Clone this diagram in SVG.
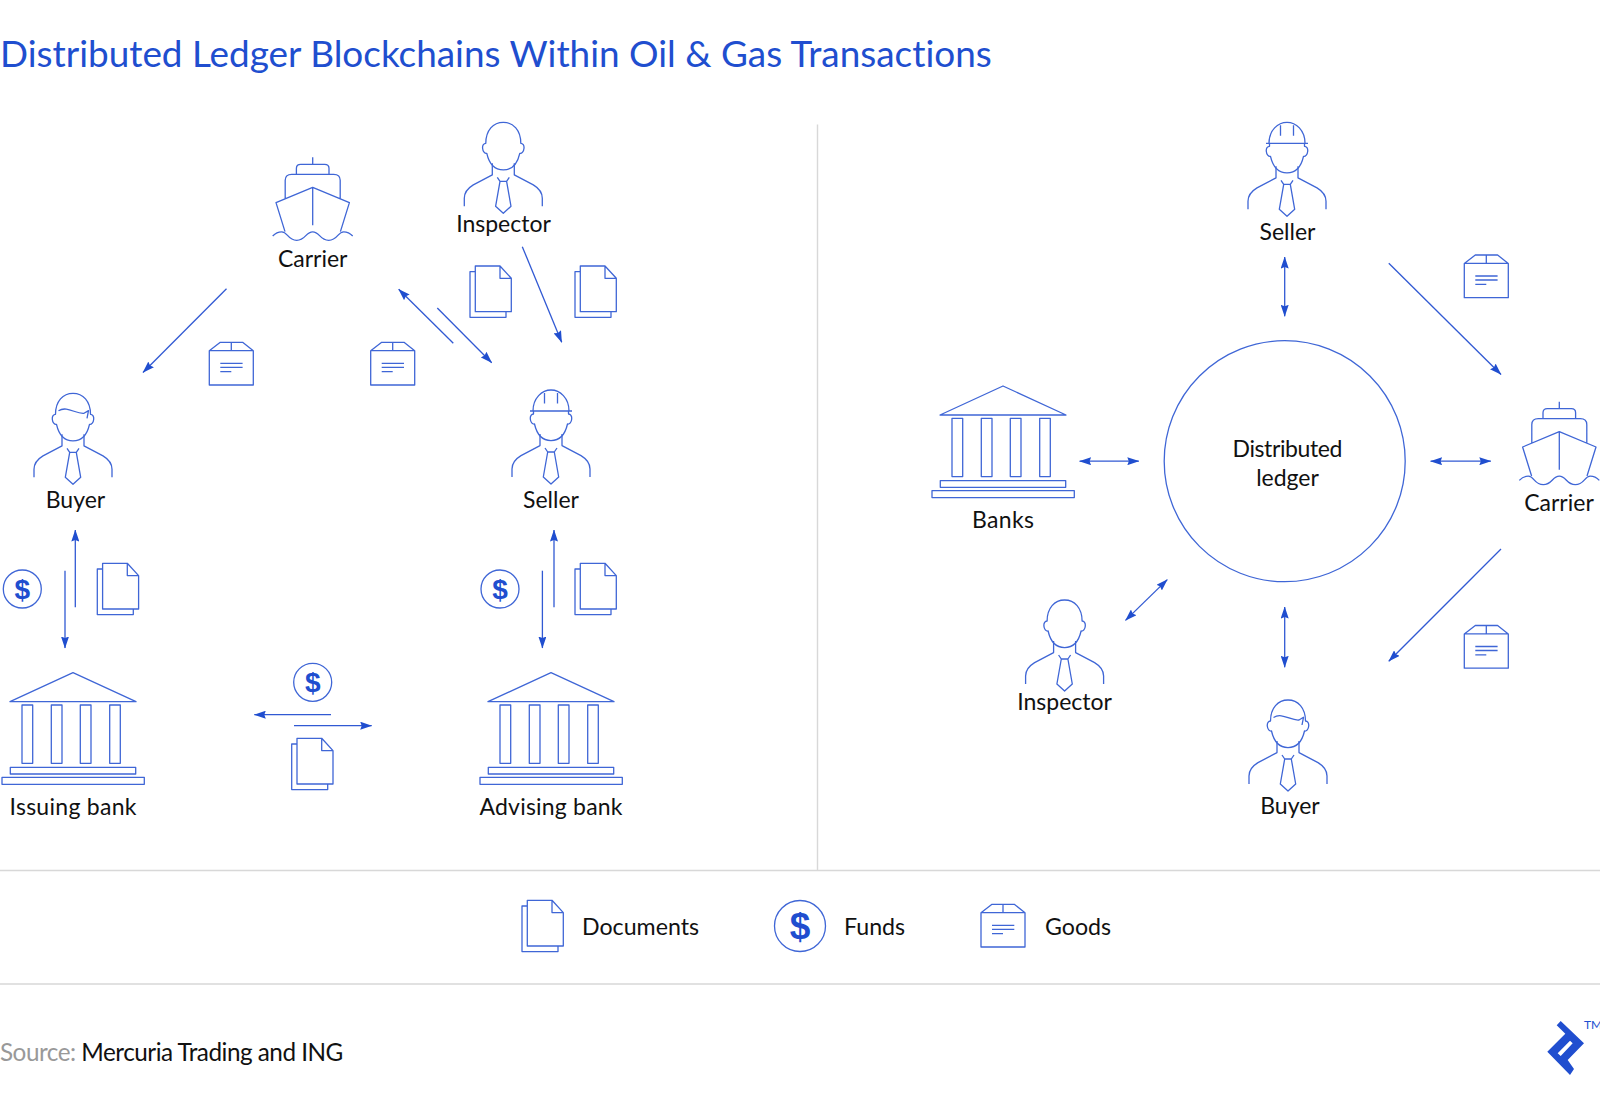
<svg xmlns="http://www.w3.org/2000/svg" xmlns:xlink="http://www.w3.org/1999/xlink" width="1600" height="1113" viewBox="0 0 1600 1113">
<style>
text{font-variant-ligatures:none}
.i{fill:none;stroke:#3f66d6;stroke-width:1.3;stroke-linejoin:round}
.c{fill:none;stroke:#3159d3;stroke-width:1.3}
.t{font-family:"Lato","Liberation Sans",sans-serif;font-size:23px;fill:#111;text-anchor:middle}
.l{font-family:"Lato","Liberation Sans",sans-serif;font-size:23.2px;fill:#111}
.d{font-family:"Liberation Sans",sans-serif;font-weight:700;fill:#204ecf;text-anchor:middle}
.r{stroke:#d8d8d8;stroke-width:1.4;fill:none}
</style>
<defs>
<marker id="a" viewBox="0 0 12 8" refX="11.5" refY="4" markerUnits="userSpaceOnUse" markerWidth="12" markerHeight="8" orient="auto-start-reverse"><path d="M0 0L12 4L0 8L1.500 4Z" fill="#204ecf"/></marker>
<g id="body" class="i"><path d="M-11 41V52.6L-30 62.6C-35 65.6-39 69-39 76V84M11 41V52.6L30 62.6C35 65.6 39 69 39 76V84"/><path d="M-6 55L-3.3 59H3.3L6 55M-3.3 59L-7.7 84L0 91L7.7 84L3.3 59"/></g>
<g id="person"><use href="#body"/><path class="i" d="M-17.5 21C-17.5 8-10 0 0 0S17.5 8 17.5 21C19.5 21 21 23 20.7 26C20.5 29 18.5 31.5 16.5 31C14 42 8 47.6 0 47.6S-14 42-16.5 31C-18.5 31.5-20.5 29-20.7 26C-21 23-19.5 21-17.5 21Z"/></g>
<g id="buyer"><use href="#person"/><path class="i" d="M-14.5 17.5C-6 12 3 21 11 20L15.5 17.3L14 25"/></g>
<g id="seller"><use href="#body"/><path class="i" d="M-18 18C-18 5-9-3 0-3S18 5 18 18M-21 18H21M-6.5 0V10.5M6.5 0V10.5M-17.5 18V21C-19.5 21-21 23-20.7 26C-20.5 29-18.5 31.5-16.5 31C-14 42-8 47.6 0 47.6S14 42 16.5 31C18.5 31.5 20.5 29 20.7 26C21 23 19.5 21 17.5 21V18"/></g>
<g id="ship" class="i"><path d="M0 0V7M-16.3 17V11Q-16.3 7-12 7H12Q16.3 7 16.3 11V17M-27.5 41V23Q-27.5 17-21 17H21Q27.5 17 27.5 23V41M0 30V68M-27.7 74.3L-36.7 45.3L0 30L36.7 45.3L27.7 74.3"/><path d="M-40 78.7Q-36 74.5-31 74.5C-25 74.5-25 83-16 83C-7 83-7 74.5 0 74.5C7 74.5 7 83 16 83C25 83 25 74.5 31 74.5Q36 74.5 40 78.7"/></g>
<g id="bank" class="i"><path d="M0 0L-63 29H63Z"/><path d="M-51 32.3H-40.3V90.6H-51ZM-21.7 32.3H-11V90.6H-21.7ZM7.3 32.3H18V90.6H7.3ZM36.7 32.3H47.3V90.6H36.7ZM-62.7 94.6H62.7V101.3H-62.7ZM-71 104.6H71.3V111.6H-71Z"/></g>
<g id="doc" class="i"><path d="M5.3 0H30L41.3 12.3V45.7H5.3ZM30 0V12.3H41.3M5.3 5.7H0V51.3H36V45.7"/></g>
<g id="box" class="i"><path d="M0 8.4L11 0H33.3L44 8.4V42.7H0ZM0 8.4H44M22 0V8.4M11 21H33.3M11 25H33.3M11 29.4H22"/></g>
<g id="fund"><circle class="i" r="19"/><text class="d" y="10" font-size="28">$</text></g>
</defs>
<rect width="1600" height="1113" fill="#fff"/>
<text id="title" x="0" y="67" font-family="Lato,'Liberation Sans',sans-serif" font-size="36.900" fill="#204ecf">Distributed Ledger Blockchains Within Oil &amp; Gas Transactions</text>
<g id="rules"><path class="r" d="M817.5 124.500V870M0 870.500H1600M0 984H1600"/></g>
<g id="connectors">
<path class="c" marker-end="url(#a)" d="M226.500 288.800L143 372.500"/>
<path class="c" marker-end="url(#a)" d="M522.300 246.700L561.700 342.300"/>
<path class="c" marker-end="url(#a)" d="M453.300 343.300L398.700 289.300"/>
<path class="c" marker-end="url(#a)" d="M437.300 308L491.700 362.700"/>
<path class="c" marker-end="url(#a)" d="M75.300 607.300V530"/>
<path class="c" marker-end="url(#a)" d="M65 570.700V648"/>
<path class="c" marker-end="url(#a)" d="M554 607.300V530"/>
<path class="c" marker-end="url(#a)" d="M542.400 570.700V648"/>
<path class="c" marker-end="url(#a)" d="M331 714.700H254.300"/>
<path class="c" marker-end="url(#a)" d="M294 725.700H371.700"/>
<path class="c" marker-start="url(#a)" marker-end="url(#a)" d="M1284.700 257V316.300"/>
<path class="c" marker-start="url(#a)" marker-end="url(#a)" d="M1284.700 607V667.300"/>
<path class="c" marker-start="url(#a)" marker-end="url(#a)" d="M1079.600 461.200H1138.800"/>
<path class="c" marker-start="url(#a)" marker-end="url(#a)" d="M1430.600 461.200H1490.800"/>
<path class="c" marker-start="url(#a)" marker-end="url(#a)" d="M1125.500 620.400L1167.300 579.600"/>
<path class="c" marker-end="url(#a)" d="M1388.800 263.300L1501 374.500"/>
<path class="c" marker-end="url(#a)" d="M1501 549L1388.800 661.200"/>
</g>
<g id="carrier-left"><use href="#ship" x="312.700" y="157.300"/><text class="t" x="312.700" y="267">Carrier</text></g>
<g id="inspector-left"><use href="#person" x="503.300" y="122.300"/><text class="t" x="503.500" y="232">Inspector</text></g>
<g id="buyer-left"><use href="#buyer" x="73" y="393.300"/><text class="t" x="75.500" y="508">Buyer</text></g>
<g id="seller-left"><use href="#seller" x="551" y="393"/><text class="t" x="551" y="508">Seller</text></g>
<g id="issuing-bank"><use href="#bank" x="73" y="672.700"/><text class="t" x="73" y="815" textLength="127">Issuing bank</text></g>
<g id="advising-bank"><use href="#bank" x="551" y="672.700"/><text class="t" x="551" y="815" textLength="143">Advising bank</text></g>
<g id="flows-left">
<use href="#doc" x="470" y="266"/><use href="#doc" x="575" y="266"/><use href="#doc" x="97.300" y="563.300"/><use href="#doc" x="575" y="563.300"/><use href="#doc" x="291.700" y="738.300"/>
<use href="#box" x="209.300" y="342.300"/><use href="#box" x="370.700" y="342.300"/>
<use href="#fund" x="22.300" y="589"/><use href="#fund" x="500" y="589"/><use href="#fund" x="312.700" y="682.300"/>
</g>
<g id="ledger"><circle class="i" cx="1284.700" cy="461.200" r="120.500"/><text class="t" x="1287.500" y="457" textLength="110">Distributed</text><text class="t" x="1287.500" y="486">ledger</text></g>
<g id="seller-right"><use href="#seller" x="1287" y="125.300"/><text class="t" x="1287.500" y="239.500">Seller</text></g>
<g id="carrier-right"><use href="#ship" x="1559.300" y="401.700"/><text class="t" x="1559" y="511">Carrier</text></g>
<g id="banks"><use href="#bank" x="1003" y="386"/><text class="t" x="1003" y="527.500" textLength="62">Banks</text></g>
<g id="inspector-right"><use href="#person" x="1064.600" y="600"/><text class="t" x="1064.600" y="709.500">Inspector</text></g>
<g id="buyer-right"><use href="#buyer" x="1288" y="700"/><text class="t" x="1290" y="814">Buyer</text></g>
<g id="flows-right"><use href="#box" x="1464.300" y="255"/><use href="#box" x="1464.300" y="625.500"/></g>
<g id="legend">
<use href="#doc" x="522" y="900.300"/><text class="l" x="582" y="935">Documents</text>
<circle class="i" cx="800" cy="926" r="25.500"/><text class="d" x="800" y="939" font-size="37">$</text><text class="l" x="844" y="935">Funds</text>
<use href="#box" x="981" y="904.300"/><text class="l" x="1045" y="935">Goods</text>
</g>
<text id="source" x="0" y="1060.500" font-family="Lato,'Liberation Sans',sans-serif" font-size="24.300" letter-spacing="-0.5" fill="#111"><tspan fill="#999">Source: </tspan>Mercuria Trading and ING</text>
<g id="logo"><path fill="#204ecf" fill-rule="evenodd" d="M1560.700 1021L1584 1043.300L1567.700 1060L1574 1069L1570 1075L1547.300 1051.700L1565.300 1033.700L1556.700 1025.300ZM1557.700 1053.300L1570 1040.700L1572.700 1043.300L1560.700 1056Z"/><text x="1584" y="1029" font-family="Lato,'Liberation Sans',sans-serif" font-size="12" fill="#204ecf">TM</text></g>
</svg>
